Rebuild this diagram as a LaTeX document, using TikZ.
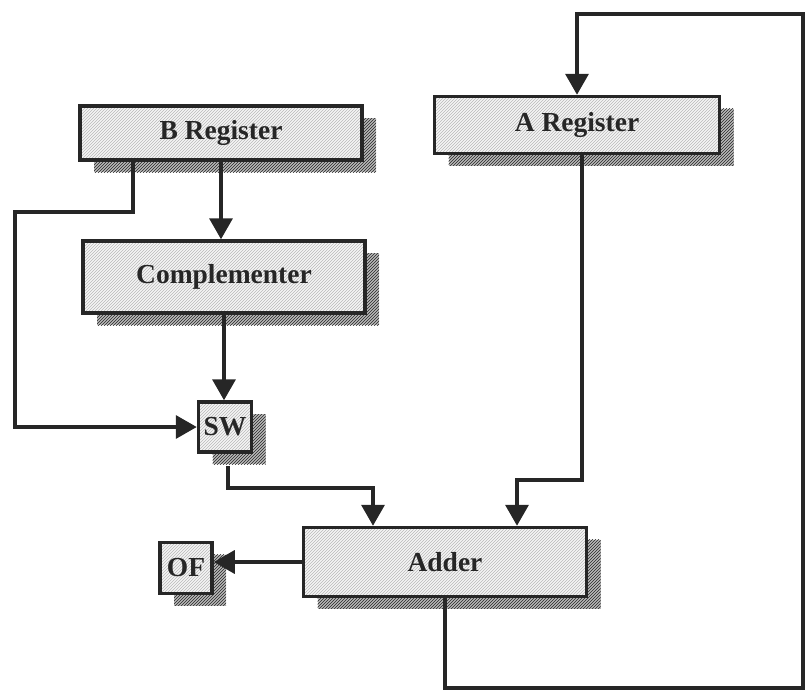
\documentclass[tikz,border=0pt]{standalone}
\usepackage{fontspec}
\setmainfont{Liberation Serif}
\usetikzlibrary{arrows.meta,patterns}

\begin{document}
\begin{tikzpicture}[x=1pt,y=-1pt,
  blk/.style={draw=black!85, line width=3.5pt, inner sep=0pt,
    font=\fontsize{27.5}{30}\selectfont\bfseries, text=black!85,
    preaction={fill=gray!55, transform canvas={shift={(14pt,-12pt)}}},
    preaction={pattern=north east lines, pattern color=black!85,
      transform canvas={shift={(14pt,-12pt)}}},
    preaction={fill=gray!8},
    pattern=north east lines, pattern color=gray!55},
  wire/.style={draw=black!85, line width=3.5pt},
  arr/.style={wire, -{Triangle[width=23pt,length=21pt]}}]
  \useasboundingbox (0,0) rectangle (809,691);
  % the blocks
  \node[blk, minimum width=282pt, minimum height=54pt] (breg) at (221,133) {B Register};
  \node[blk, minimum width=285pt, minimum height=57pt] (areg) at (577,125) {A Register};
  \node[blk, minimum width=282pt, minimum height=72pt] (comp) at (224,277) {Complementer};
  \node[blk, minimum width=53pt, minimum height=50pt] (sw) at (225,427) {SW};
  \node[blk, minimum width=283pt, minimum height=69pt] (adder) at (445,562) {Adder};
  \node[blk, minimum width=52pt, minimum height=51pt] (of) at (186,568) {OF};
  % turning points
  \coordinate (bsplit) at (15,212);
  \coordinate (jsw) at (373,488);
  \coordinate (ja) at (517,480);
  \coordinate (br) at (803,688);
  \coordinate (tr) at (803,14);
  % B side
  \draw[arr] (breg.south) -- (breg.south |- comp.north);
  \draw[arr] ([xshift=-88pt]breg.south) |- (bsplit) |- (sw.west);
  \draw[arr] (comp.south) -- (comp.south |- sw.north);
  \draw[arr] ([xshift=3pt,yshift=-12pt]sw.south) |- (jsw) -- (jsw |- adder.north);
  % A side
  \draw[arr] ([xshift=5pt]areg.south) |- (ja) -- (ja |- adder.north);
  % outputs of the adder
  \draw[arr] (adder.west) -- (adder.west -| of.east);
  \draw[arr] (adder.south) |- (br) -- (tr) -| (areg.north);
\end{tikzpicture}
\end{document}
